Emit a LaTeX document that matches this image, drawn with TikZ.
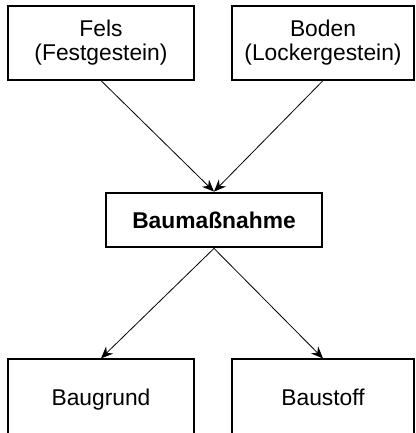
\documentclass[tikz,border=0pt]{standalone}
\usepackage{fontspec}
\setmainfont{Liberation Sans}
\usetikzlibrary{arrows.meta, positioning}

\begin{document}
\begin{tikzpicture}[x=0.5pt, y=-0.5pt,
  box/.style={draw, line width=0.6pt, inner sep=0pt, align=center,
    font=\fontsize{11.4}{12}\selectfont},
  mainbox/.style={box, line width=1.4pt, font=\fontsize{11.4}{12}\selectfont\bfseries},
  pfeil/.style={-{Stealth[length=6pt, width=5pt, inset=2pt]}, line width=0.4pt}]
\useasboundingbox (0,0) rectangle (416,433);
\node[box, minimum width=93pt, minimum height=37pt] (fels) at (101,43) {Fels\\(Festgestein)};
\node[box, minimum width=91pt, minimum height=37pt] (boden) at (323,43) {Boden\\(Lockergestein)};
\node[mainbox, minimum width=108pt, minimum height=27pt] (massnahme) at (214,220) {Baumaßnahme};
\node[box, minimum width=93pt, minimum height=39pt, text height=9pt, text depth=2pt] (grund) at (101,398) {Baugrund};
\node[box, minimum width=91pt, minimum height=39pt, text height=9pt, text depth=2pt] (stoff) at (323,398) {Baustoff};
\draw[pfeil] (fels.south) -- (massnahme.north);
\draw[pfeil] (boden.south) -- (massnahme.north);
\draw[pfeil] (massnahme.south) -- (grund.north);
\draw[pfeil] (massnahme.south) -- (stoff.north);
\end{tikzpicture}
\end{document}
